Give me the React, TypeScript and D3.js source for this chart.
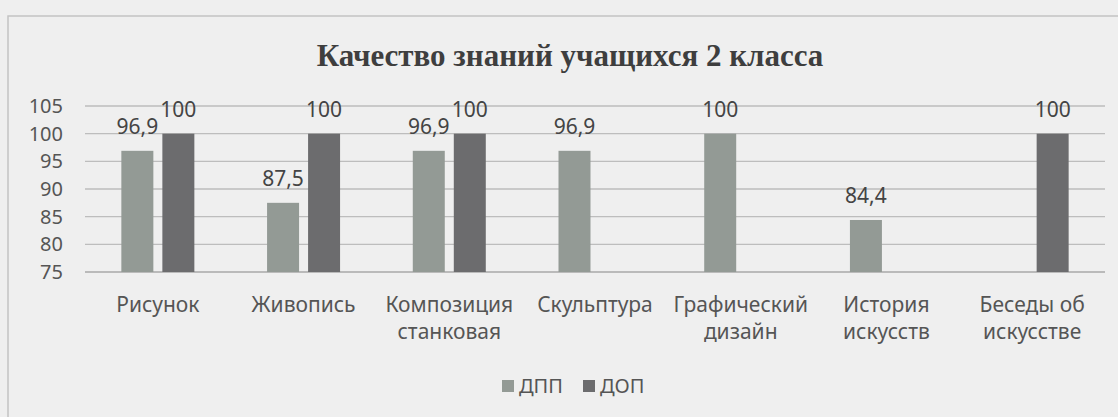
import React from 'react';
import * as d3 from 'd3';

const categories = [
  ['Рисунок'],
  ['Живопись'],
  ['Композиция', 'станковая'],
  ['Скульптура'],
  ['Графический', 'дизайн'],
  ['История', 'искусств'],
  ['Беседы об', 'искусстве'],
];
const seriesNames = ['ДПП', 'ДОП'];
const dppValues = [96.9, 87.5, 96.9, 96.9, 100, 84.4, null];
const dopValues = [100, 100, 100, null, null, null, 100];
const yTicks = [75, 80, 85, 90, 95, 100, 105];
const seriesColors = ['#939a95', '#6c6c6e'];

const W = 1118;
const H = 417;
const margin = { left: 85, right: 13, top: 106, bottom: 145 };

const App = () => {
  const x = d3
    .scaleBand<number>()
    .domain(d3.range(categories.length))
    .range([margin.left, W - margin.right]);

  const y = d3
    .scaleLinear()
    .domain([75, 105])
    .range([H - margin.bottom, margin.top]);

  const fmt = (v: number) => String(v).replace('.', ',');
  const values = [dppValues, dopValues];

  const labelFont = '"Noto Sans", sans-serif';

  return (
    <svg
      width={W}
      height={H}
      style={{ position: 'absolute', left: 0, top: 0, background: '#efefef' }}
    >
      <rect x={8} y={16} width={W} height={H} fill="none" stroke="#c4c4c4" strokeWidth={1.5} />
      <text
        x={570}
        y={66}
        textAnchor="middle"
        fontFamily='"Liberation Serif", serif'
        fontWeight="bold"
        fontSize={31}
        fill="#3e3e3e"
      >
        Качество знаний учащихся 2 класса
      </text>

      {yTicks.map((t) => (
        <g key={t}>
          <line
            x1={margin.left}
            x2={W - margin.right}
            y1={y(t)}
            y2={y(t)}
            stroke={t === 75 ? '#a8a8a8' : '#bdbdbd'}
            strokeWidth={1.3}
          />
          <text
            x={63}
            y={y(t)}
            dy="0.35em"
            textAnchor="end"
            fontFamily={labelFont}
            fontSize={20}
            fill="#555"
          >
            {t}
          </text>
        </g>
      ))}

      {categories.map((cat, i) => {
        const cx = (x(i) ?? 0) + x.bandwidth() / 2;
        const x1 = d3
          .scaleBand<number>()
          .domain([0, 1])
          .range([cx - 36.5, cx + 36.5])
          .paddingInner(0.22);
        return (
          <g key={i}>
            {values.map((vals, s) => {
              const v = vals[i];
              if (v == null) return null;
              const bx = x1(s) ?? 0;
              return (
                <g key={s}>
                  <rect
                    x={bx}
                    y={y(v)}
                    width={x1.bandwidth()}
                    height={y(75) - y(v)}
                    fill={seriesColors[s]}
                  />
                  <text
                    x={bx + x1.bandwidth() / 2}
                    y={y(v) - 17}
                    textAnchor="middle"
                    fontFamily={labelFont}
                    fontSize={21}
                    fill="#444"
                  >
                    {fmt(v)}
                  </text>
                </g>
              );
            })}
            {cat.map((line, k) => (
              <text
                key={k}
                x={cx}
                y={312 + k * 27}
                textAnchor="middle"
                fontFamily={labelFont}
                fontSize={21}
                fill="#555"
              >
                {line}
              </text>
            ))}
          </g>
        );
      })}

      <g fontFamily={labelFont} fontSize={20} fill="#555">
        {seriesNames.map((name, s) => {
          const lx = 502 + s * 81;
          return (
            <g key={name}>
              <rect x={lx} y={380} width={12} height={12} fill={seriesColors[s]} />
              <text x={lx + 17} y={393}>
                {name}
              </text>
            </g>
          );
        })}
      </g>
    </svg>
  );
};

export default App;
